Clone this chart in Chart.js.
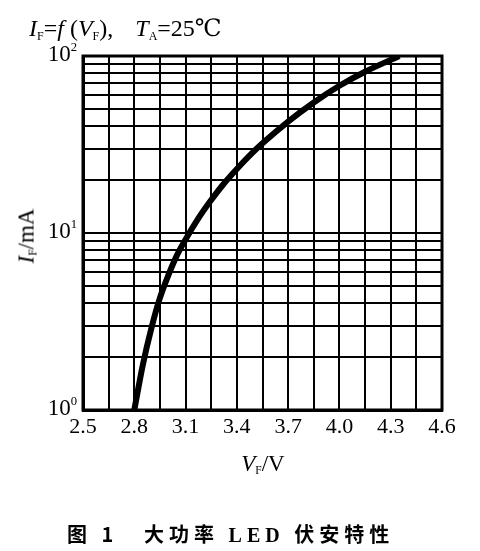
<!DOCTYPE html>
<html>
<head>
<meta charset="utf-8">
<script src="https://cdn.jsdelivr.net/npm/chart.js@4/dist/chart.umd.min.js"></script>
<style>
    html, body { margin: 0; padding: 0; background: #fff; }
    #wrap { position: relative; width: 480px; height: 551px; overflow: hidden; }
    #chart { position: absolute; left: 0; top: 0; }
    .lbl { position: absolute; font-family: "Liberation Serif", "DejaVu Serif", serif; color: #000; white-space: nowrap; line-height: 1; }
    .lbl i { font-style: italic; }
    .lbl sub { font-size: 0.5em; vertical-align: -0.3em; font-style: normal; }
    .lbl sup { font-size: 0.55em; vertical-align: 0.75em; }
    #title { left: 29px; top: 16px; font-size: 24px; }
    #title .ta { margin-left: 10px; }
    #ytitle { left: 27px; top: 236px; font-size: 23px; transform: translate(-50%, -50%) rotate(-90deg); }
    #xtitle { left: 263px; top: 452px; font-size: 23px; transform: translateX(-50%); }
    .cap { top: 524px; font-size: 20px; font-weight: bold; font-family: "Noto Sans CJK SC", sans-serif; letter-spacing: 5px; }
    .cap b { font-family: "Liberation Serif", serif; }
    .ytick { font-size: 23px; transform: translate(-100%, -50%); }
</style>
</head>
<body>
<div id="wrap">
    <canvas id="chart" width="480" height="551"></canvas>
    <div class="lbl" id="title"><i>I</i><sub>F</sub>=<i>f</i> (<i>V</i><sub>F</sub>),&nbsp; <span class="ta"><i>T</i><sub>A</sub>=25℃</span></div>
    <div class="lbl" id="ytitle"><i>I</i><sub>F</sub>/mA</div>
    <div class="lbl" id="xtitle"><i>V</i><sub>F</sub>/V</div>
    <div class="lbl cap" style="left:67px">图 1</div>
    <div class="lbl cap" style="left:144px">大功率 <b>LED</b> 伏安特性</div>
</div>
<script>
// Datos (V_F en V, I_F en mA)
const vfValues = [2.80, 2.85, 2.90, 2.95, 3.00, 3.05, 3.10, 3.17, 3.24, 3.32, 3.40, 3.48, 3.55, 3.70, 3.85, 4.00, 4.15, 4.35];
const ifValues = [1, 1.8, 2.9, 4.3, 5.8, 7.5, 9.2, 11.9, 14.9, 18.8, 23, 27.7, 32.1, 42.6, 54.6, 67.9, 81.5, 100];

// Rejilla y etiquetas
const xGrid = [2.5, 2.65, 2.8, 2.95, 3.1, 3.25, 3.4, 3.55, 3.7, 3.85, 4.0, 4.15, 4.3, 4.45, 4.6];
const xLabels = ['2.5', '', '2.8', '', '3.1', '', '3.4', '', '3.7', '', '4.0', '', '4.3', '', '4.6'];
const yGrid = [1, 2, 3, 4, 5, 6, 7, 8, 9, 10, 20, 30, 40, 50, 60, 70, 80, 90, 100];
const yLabelValues = [1, 10, 100];
const yLabelExp = ['0', '1', '2'];

const points = vfValues.map((v, i) => ({ x: v, y: ifValues[i] }));

const ctx = document.getElementById('chart').getContext('2d');
const chart = new Chart(ctx, {
    type: 'scatter',
    data: {
        datasets: [{
            data: points,
            showLine: true,
            borderColor: '#000',
            borderWidth: 6,
            pointRadius: 0,
            cubicInterpolationMode: 'monotone',
            fill: false
        }]
    },
    options: {
        responsive: false,
        animation: false,
        layout: { padding: { top: 56, right: 38, bottom: 0, left: 0 } },
        plugins: {
            legend: { display: false },
            tooltip: { enabled: false }
        },
        scales: {
            x: {
                type: 'linear',
                min: 2.5,
                max: 4.6,
                afterBuildTicks: s => { s.ticks = xGrid.map(v => ({ value: v })); },
                afterFit: s => { s.height = 141; },
                border: { display: true, color: '#000', width: 3 },
                grid: { color: '#000', lineWidth: 2, drawTicks: false },
                ticks: {
                    autoSkip: false,
                    maxRotation: 0,
                    padding: 4,
                    color: '#000',
                    font: { family: 'Liberation Serif', size: 22 },
                    callback: (v, i) => xLabels[i]
                }
            },
            y: {
                type: 'logarithmic',
                min: 1,
                max: 100,
                afterBuildTicks: s => { s.ticks = yGrid.map(v => ({ value: v })); },
                afterFit: s => { s.width = 83; },
                border: { display: true, color: '#000', width: 3 },
                grid: { color: '#000', lineWidth: 2, drawTicks: false },
                ticks: { display: false }
            }
        }
    },
    plugins: [{
        // marco completo alrededor del área del gráfico
        id: 'frame',
        afterDraw(c) {
            const a = c.chartArea;
            const g = c.ctx;
            g.save();
            g.strokeStyle = '#000';
            g.lineWidth = 3;
            g.strokeRect(a.left, a.top, a.right - a.left, a.bottom - a.top);
            g.restore();
        }
    }]
});

// Etiquetas 10^n del eje Y con superíndice real
const yScale = chart.scales.y;
const wrap = document.getElementById('wrap');
yLabelValues.forEach((v, i) => {
    const d = document.createElement('div');
    d.className = 'lbl ytick';
    d.innerHTML = '10<sup>' + yLabelExp[i] + '</sup>';
    d.style.left = (yScale.right - 6) + 'px';
    d.style.top = (yScale.getPixelForValue(v) - 3) + 'px';
    wrap.appendChild(d);
});
</script>
</body>
</html>
